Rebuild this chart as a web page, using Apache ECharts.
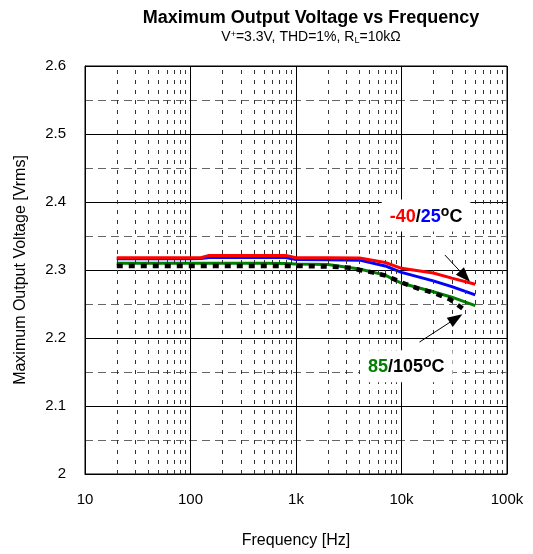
<!DOCTYPE html>
<html>
<head>
<meta charset="utf-8">
<script src="https://cdn.jsdelivr.net/npm/echarts@6/dist/echarts.min.js"></script>
<style>
html,body{margin:0;padding:0;background:#fff;}
#c{width:533px;height:554px;}
</style>
</head>
<body>
<div id="c"></div>
<script>
// ---- data ----
var freq = [20, 50, 100, 125, 150, 200, 500, 800, 1000, 2000, 4000, 7000, 10000, 20000, 30000, 50000];
var vRedM40 = [2.318, 2.318, 2.318, 2.318, 2.3215, 2.3215, 2.3215, 2.3215, 2.318, 2.318, 2.3175, 2.311, 2.3025, 2.2955, 2.288, 2.279];
var vBlue25 = [2.3165, 2.3165, 2.3165, 2.317, 2.3185, 2.3185, 2.3185, 2.3185, 2.3155, 2.315, 2.3145, 2.306, 2.2965, 2.284, 2.2755, 2.2635];
var vGreen85 = [2.310, 2.310, 2.310, 2.310, 2.310, 2.310, 2.310, 2.3095, 2.309, 2.308, 2.3015, 2.2925, 2.2805, 2.268, 2.260, 2.2475];
var freqBlack = [20, 50, 100, 200, 500, 1000, 1500, 2200, 3400, 4000, 5300, 7200, 10000, 14400, 20000, 28800, 38500];
var vBlack105 = [2.306, 2.306, 2.306, 2.306, 2.306, 2.306, 2.3055, 2.305, 2.303, 2.300, 2.2965, 2.2915, 2.2817, 2.2727, 2.2667, 2.2567, 2.2427];
var xTickValues = [10, 100, 1000, 10000, 100000];
var xTickLabels = ['10', '100', '1k', '10k', '100k'];
var xMinorGrid = [20,30,40,50,60,70,80,90,200,300,400,500,600,700,800,900,2000,3000,4000,5000,6000,7000,8000,9000,20000,30000,40000,50000,60000,70000,80000,90000];
var arrowUpper = [[25800, 2.322], [40000, 2.2903]];
var arrowLower = [[14800, 2.194], [32900, 2.229]];
var labelUpperPos = [17100, 2.380];
var labelLowerPos = [11100, 2.1586];

function pairs(xs, ys) { return xs.map(function (x, i) { return [x, ys[i]]; }); }

var FONT = '"Liberation Sans", Arial, sans-serif';
var chart = echarts.init(document.getElementById('c'));

var richLabel = {
  r: {color: '#ff0000', fontSize: 18, lineHeight: 22, fontWeight: 'bold', fontFamily: FONT},
  b: {color: '#0000ff', fontSize: 18, lineHeight: 22, fontWeight: 'bold', fontFamily: FONT},
  g: {color: '#008000', fontSize: 18, lineHeight: 22, fontWeight: 'bold', fontFamily: FONT},
  k: {color: '#000000', fontSize: 18, lineHeight: 22, fontWeight: 'bold', fontFamily: FONT},
  sup: {color: '#000000', fontSize: 14, lineHeight: 8, fontWeight: 'bold', fontFamily: FONT, verticalAlign: 'top'}
};

var option = {
  backgroundColor: '#fff',
  animation: false,
  title: {
    text: 'Maximum Output Voltage vs Frequency',
    subtext: 'V{sup|+}=3.3V, THD=1%, R{sub|L}=10kΩ',
    left: 306, top: 4, textAlign: 'center', itemGap: 3,
    textStyle: {fontFamily: FONT, fontSize: 18, fontWeight: 'bold', color: '#000'},
    subtextStyle: {
      fontFamily: FONT, fontSize: 14, color: '#000',
      rich: {
        sup: {fontFamily: FONT, fontSize: 9, color: '#000', verticalAlign: 'top', padding: [0, 0, 6, 0]},
        sub: {fontFamily: FONT, fontSize: 9, color: '#000', verticalAlign: 'bottom', padding: [6, 0, 0, 0]}
      }
    }
  },
  grid: {left: 85, right: 26, top: 66, bottom: 79, show: true, borderColor: '#000', borderWidth: 1},
  xAxis: {
    type: 'log', logBase: 10, min: 10, max: 100000,
    name: 'Frequency [Hz]', nameLocation: 'middle', nameGap: 59,
    nameTextStyle: {fontFamily: FONT, fontSize: 16, color: '#000'},
    axisLine: {show: true, lineStyle: {color: '#000'}},
    axisTick: {show: false},
    axisLabel: {
      margin: 18, fontFamily: FONT, fontSize: 15, color: '#000',
      formatter: function (v) { var i = xTickValues.indexOf(Math.round(v)); return i >= 0 ? xTickLabels[i] : ''; }
    },
    splitLine: {show: true, lineStyle: {color: '#000', width: 1}},
    minorTick: {show: false}, minorSplitLine: {show: false}
  },
  yAxis: {
    type: 'value', min: 2, max: 2.6, interval: 0.1,
    name: 'Maximum Output Voltage [Vrms]', nameLocation: 'middle', nameGap: 56,
    nameTextStyle: {fontFamily: FONT, fontSize: 16, color: '#000'},
    axisLine: {show: true, lineStyle: {color: '#000'}},
    axisTick: {show: false},
    axisLabel: {margin: 19, fontFamily: FONT, fontSize: 15, color: '#000'},
    splitLine: {show: true, lineStyle: {color: '#000', width: 1}},
    minorTick: {show: false, splitNumber: 2},
    minorSplitLine: {show: true, lineStyle: {color: '#666', width: 1, type: [8, 5]}}
  },
  series: [
    {
      name: '85C', type: 'line', data: pairs(freq, vGreen85), symbol: 'none', z: 3,
      lineStyle: {color: '#008000', width: 3},
      markLine: {
        silent: true, symbol: ['none', 'none'], label: {show: false}, animation: false,
        lineStyle: {color: '#333', width: 1, type: [4, 6]},
        data: xMinorGrid.map(function (x) { return {xAxis: x}; })
      }
    },
    {
      name: '25C', type: 'line', data: pairs(freq, vBlue25), symbol: 'none', z: 4,
      lineStyle: {color: '#0000ff', width: 3}
    },
    {
      name: '-40C', type: 'line', data: pairs(freq, vRedM40), symbol: 'none', z: 5,
      lineStyle: {color: '#ff0000', width: 3},
      markLine: {
        silent: true, symbol: ['none', 'triangle'], symbolSize: [11, 15], label: {show: false}, animation: false,
        lineStyle: {color: '#000', width: 1, type: 'solid'},
        data: [
          [{coord: arrowUpper[0]}, {coord: arrowUpper[1]}],
          [{coord: arrowLower[0]}, {coord: arrowLower[1]}]
        ]
      }
    },
    {
      name: '105C', type: 'line', data: pairs(freqBlack, vBlack105), symbol: 'none', z: 6,
      lineStyle: {color: '#000', width: 4.5, type: [6, 6]},
      markPoint: {
        silent: true, symbol: 'rect', symbolSize: 1, itemStyle: {color: 'rgba(0,0,0,0)'},
        label: {show: true, position: 'inside', backgroundColor: '#fff', padding: [6, 8, 4, 8], rich: richLabel},
        data: [
          {coord: labelUpperPos, label: {formatter: '{r|-40}{k|/}{b|25}{sup|o}{k|C}'}},
          {coord: labelLowerPos, label: {formatter: '{g|85}{k|/105}{sup|o}{k|C}'}}
        ]
      }
    }
  ]
};
chart.setOption(option);
</script>
</body>
</html>
